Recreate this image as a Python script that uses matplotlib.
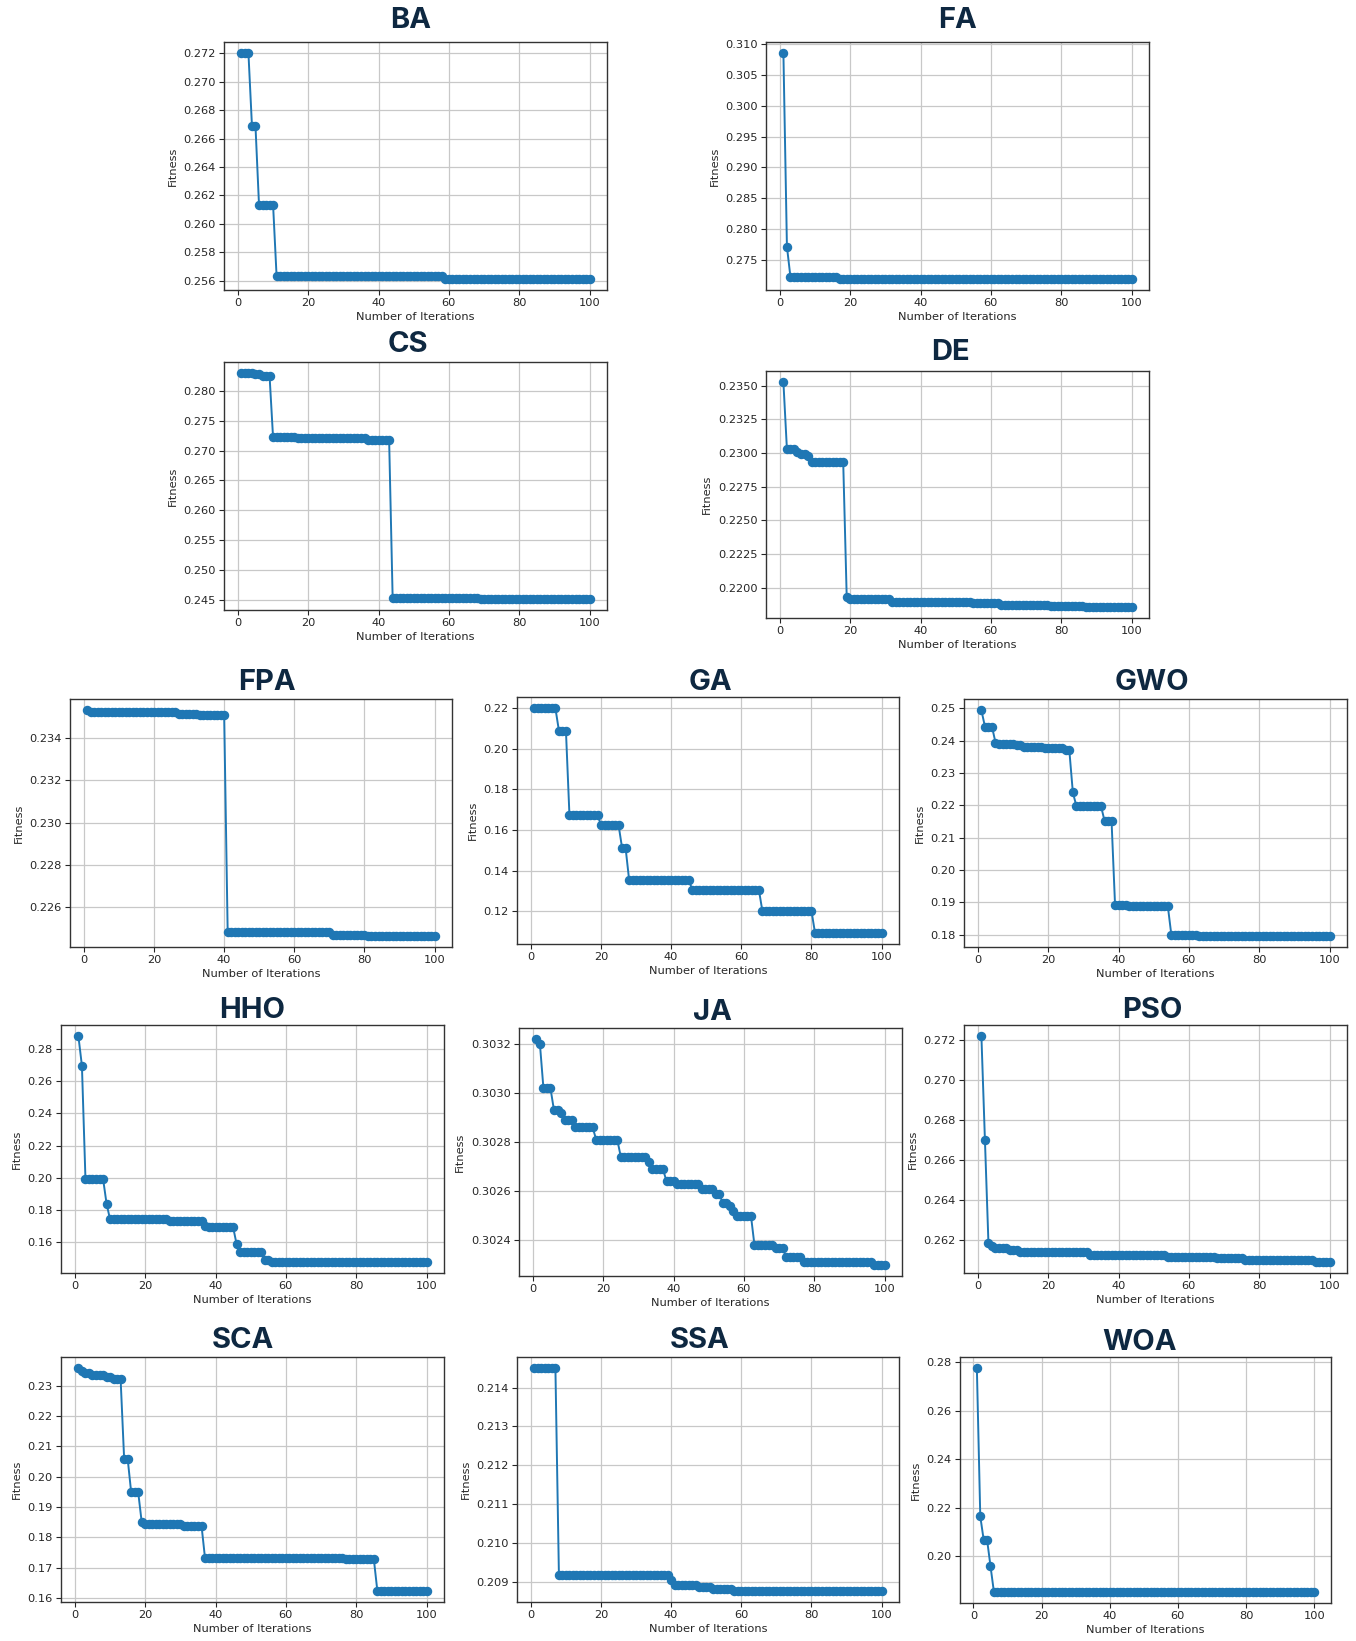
import numpy as np
import matplotlib
matplotlib.use("Agg")
import matplotlib.pyplot as plt
from matplotlib.ticker import FormatStrFormatter

N_ITER = 100

# ---- data: each series is a step curve, given by the iteration where a level starts and its value
BA_start = [1, 4, 6, 11, 59]
BA_val = [0.27200, 0.26688, 0.26136, 0.25633, 0.25614]

FA_start = [1, 2, 3, 17]
FA_val = [0.30849, 0.27717, 0.27222, 0.27195]

CS_start = [1, 5, 7, 10, 17, 37, 44, 69]
CS_val = [0.28288, 0.28271, 0.28249, 0.27219, 0.27203, 0.27181, 0.24545, 0.24528]

DE_start = [1, 2, 5, 6, 8, 9, 19, 20, 32, 55, 63, 77, 87]
DE_val = [0.23525, 0.23027, 0.23010, 0.22993, 0.22975, 0.22936, 0.21931, 0.21914,
          0.21894, 0.21885, 0.21875, 0.21868, 0.21860]

FPA_start = [1, 2, 27, 33, 41, 71, 81]
FPA_val = [0.23532, 0.23524, 0.23516, 0.23508, 0.22482, 0.22470, 0.22465]

GA_start = [1, 8, 11, 20, 26, 28, 46, 66, 81]
GA_val = [0.2200, 0.20893, 0.16739, 0.16251, 0.15127, 0.13564, 0.1306, 0.12016, 0.10941]

GWO_start = [1, 2, 5, 6, 11, 13, 19, 25, 27, 28, 36, 39, 43, 55, 63]
GWO_val = [0.24938, 0.24435, 0.23941, 0.2390, 0.2385, 0.2380, 0.23767, 0.23695, 0.2240,
           0.21978, 0.21526, 0.18916, 0.18885, 0.1800, 0.17969]

HHO_start = [1, 2, 3, 9, 10, 27, 37, 38, 46, 47, 54, 56]
HHO_val = [0.28784, 0.26948, 0.19959, 0.18412, 0.17423, 0.1734, 0.1701, 0.16928,
           0.15876, 0.1538, 0.14887, 0.14804]

JA_start = [1, 2, 3, 6, 8, 9, 12, 18, 25, 33, 34, 38, 41, 48, 52, 54, 56, 57, 58, 63, 69, 72, 77, 97]
JA_val = [0.30322, 0.30320, 0.30302, 0.30293, 0.30292, 0.30289, 0.30286, 0.30281,
          0.30274, 0.30272, 0.30269, 0.30264, 0.30263, 0.30261, 0.30259, 0.30255,
          0.30254, 0.30252, 0.30250, 0.30238, 0.30237, 0.30233, 0.30231, 0.30230]

PSO_start = [1, 2, 3, 4, 5, 9, 12, 32, 54, 68, 76, 96]
PSO_val = [0.27217, 0.26699, 0.26183, 0.26167, 0.26157, 0.26147, 0.26139, 0.26125,
           0.26115, 0.26107, 0.26099, 0.26090]

SCA_start = [1, 2, 3, 5, 9, 11, 14, 16, 19, 20, 31, 37, 77, 86]
SCA_val = [0.23582, 0.23495, 0.2342, 0.23345, 0.2329, 0.23215, 0.20599, 0.1949,
           0.1850, 0.18445, 0.18391, 0.17314, 0.17282, 0.16237]

SSA_start = [1, 8, 40, 41, 48, 52, 58]
SSA_val = [0.2145, 0.20917, 0.20904, 0.20892, 0.20887, 0.20881, 0.20876]

WOA_start = [1, 2, 3, 5, 6]
WOA_val = [0.2775, 0.2165, 0.2068, 0.1960, 0.1854]

# tick labels
BA_yticks = [0.256, 0.258, 0.260, 0.262, 0.264, 0.266, 0.268, 0.270, 0.272]
FA_yticks = [0.275, 0.280, 0.285, 0.290, 0.295, 0.300, 0.305, 0.310]
CS_yticks = [0.245, 0.250, 0.255, 0.260, 0.265, 0.270, 0.275, 0.280]
DE_yticks = [0.2200, 0.2225, 0.2250, 0.2275, 0.2300, 0.2325, 0.2350]
FPA_yticks = [0.226, 0.228, 0.230, 0.232, 0.234]
GA_yticks = [0.12, 0.14, 0.16, 0.18, 0.20, 0.22]
GWO_yticks = [0.18, 0.19, 0.20, 0.21, 0.22, 0.23, 0.24, 0.25]
HHO_yticks = [0.16, 0.18, 0.20, 0.22, 0.24, 0.26, 0.28]
JA_yticks = [0.3024, 0.3026, 0.3028, 0.3030, 0.3032]
PSO_yticks = [0.262, 0.264, 0.266, 0.268, 0.270, 0.272]
SCA_yticks = [0.16, 0.17, 0.18, 0.19, 0.20, 0.21, 0.22, 0.23]
SSA_yticks = [0.209, 0.210, 0.211, 0.212, 0.213, 0.214]
WOA_yticks = [0.20, 0.22, 0.24, 0.26, 0.28]
x_ticks = [0, 20, 40, 60, 80, 100]

# ---- layout (pixel boxes: left, top, right, bottom) and title centres
W, H = 1356, 1641
panels = [
    ("BA", BA_start, BA_val, BA_yticks, "%.3f", (224, 42, 607, 290), (411, 21)),
    ("FA", FA_start, FA_val, FA_yticks, "%.3f", (766, 42, 1149, 290), (958, 21)),
    ("CS", CS_start, CS_val, CS_yticks, "%.3f", (224, 362, 607, 610), (408, 345)),
    ("DE", DE_start, DE_val, DE_yticks, "%.4f", (766, 371, 1149, 618), (950, 352)),
    ("FPA", FPA_start, FPA_val, FPA_yticks, "%.3f", (70, 699, 452, 947), (267, 683)),
    ("GA", GA_start, GA_val, GA_yticks, "%.2f", (517, 697, 899, 944), (710, 682)),
    ("GWO", GWO_start, GWO_val, GWO_yticks, "%.2f", (964, 699, 1347, 947), (1152, 683)),
    ("HHO", HHO_start, HHO_val, HHO_yticks, "%.2f", (61, 1025, 444, 1273), (252, 1011)),
    ("JA", JA_start, JA_val, JA_yticks, "%.4f", (519, 1028, 902, 1276), (712, 1013)),
    ("PSO", PSO_start, PSO_val, PSO_yticks, "%.3f", (964, 1025, 1347, 1273), (1152, 1011)),
    ("SCA", SCA_start, SCA_val, SCA_yticks, "%.2f", (61, 1357, 444, 1602), (243, 1341)),
    ("SSA", SSA_start, SSA_val, SSA_yticks, "%.3f", (517, 1357, 899, 1602), (700, 1341)),
    ("WOA", WOA_start, WOA_val, WOA_yticks, "%.2f", (960, 1357, 1331, 1603), (1140, 1342)),
]

fig = plt.figure(figsize=(W / 100, H / 100), dpi=100)
fig.patch.set_facecolor("white")

iters = np.arange(1, N_ITER + 1)
for name, starts, vals, yt, fmt, (l, t, r, b), (tx, ty) in panels:
    counts = np.diff(list(starts) + [N_ITER + 1])
    y = np.repeat(vals, counts)
    ax = fig.add_axes([l / W, 1 - b / H, (r - l) / W, (b - t) / H])
    ax.plot(iters, y, marker="o", color="#1f77b4", markersize=5.8, linewidth=1.4)
    ax.set_xticks(x_ticks)
    ax.set_yticks(yt)
    ax.yaxis.set_major_formatter(FormatStrFormatter(fmt))
    ax.grid(True, color="#c8c8c8", linewidth=0.9)
    ax.set_axisbelow(True)
    ax.tick_params(labelsize=8.2, colors="#262626", length=3.5, width=0.8, pad=2.5)
    for sp in ax.spines.values():
        sp.set_color("#333333")
        sp.set_linewidth(1.0)
    ax.set_xlabel("Number of Iterations", fontsize=8.2, color="#262626", labelpad=2.5)
    ax.set_ylabel("Fitness", fontsize=8.2, color="#262626", labelpad=4)
    fig.text(tx / W, 1 - ty / H, name, ha="center", va="center",
             fontsize=21, fontweight="bold", color="#0e2841",
             family=["Inter", "DejaVu Sans"])

fig.savefig("out.png", dpi=100, facecolor="white")
